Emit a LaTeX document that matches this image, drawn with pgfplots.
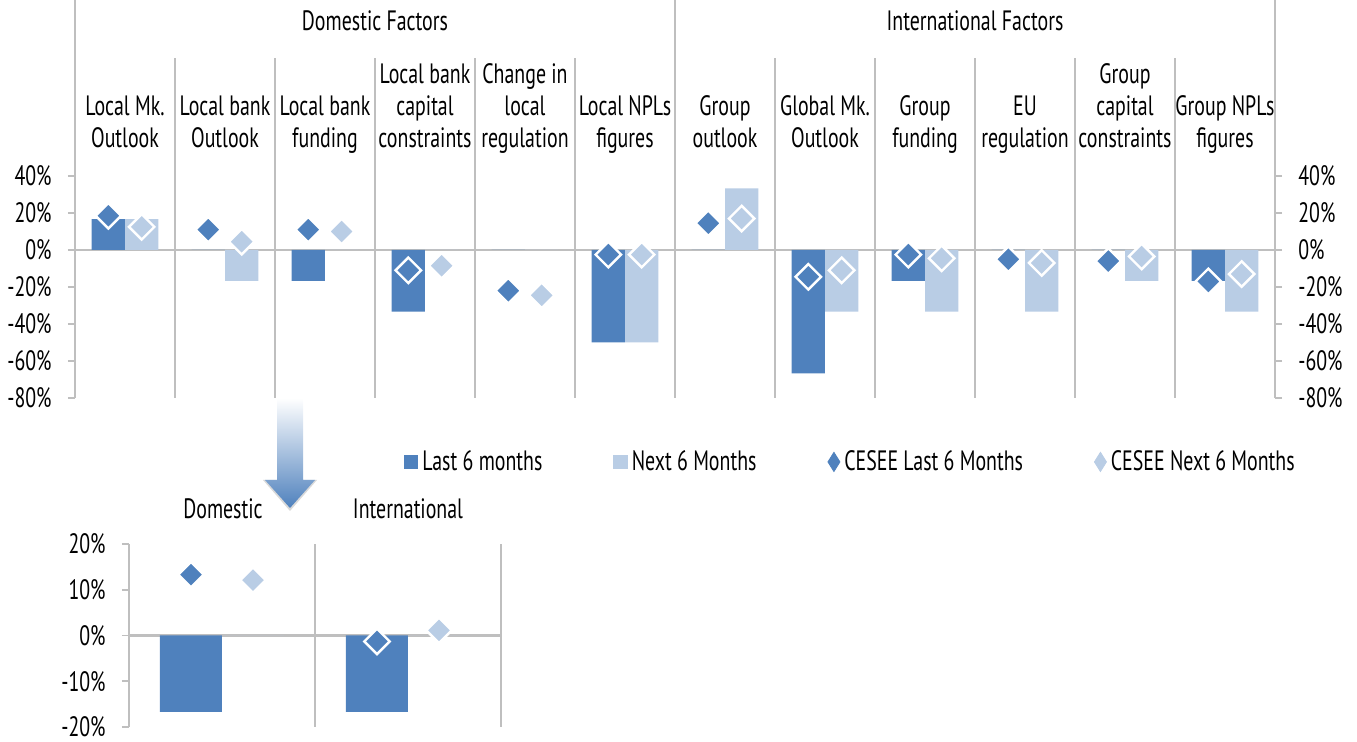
\documentclass[border=0pt]{standalone}
\usepackage{pgfplots}
\pgfplotsset{compat=1.18}
\usepackage{fontspec}
\setmainfont{PT Sans}[FakeStretch=0.71]
\definecolor{cdark}{HTML}{4F81BD}
\definecolor{clight}{HTML}{B9CDE5}
\definecolor{sepc}{HTML}{BFBFBF}
\newcommand{\lf}{\fontsize{14}{16}\selectfont}
\tikzset{sepline/.style={draw=sepc, line width=0.9pt},
         zeroline/.style={draw=sepc, line width=1.2pt}}
\pgfplotsset{
  myaxis/.style={scale only axis, anchor=south west, clip=false,
    axis x line=none,
    axis line style={draw=sepc, line width=0.9pt},
    tick style={draw=sepc, line width=0.9pt},
    tick align=outside, major tick length=3.5pt,
    yticklabel style={font=\lf, inner sep=0pt},
  },
  darkbar/.style={ybar, bar width=0.3333, bar shift=0pt, fill=cdark, draw=none,
    legend image code/.code={\fill[cdark] (0pt,-3.6pt) rectangle (7.2pt,3.6pt);}},
  lightbar/.style={ybar, bar width=0.3333, bar shift=0pt, fill=clight, draw=none,
    legend image code/.code={\fill[clight] (0pt,-3.6pt) rectangle (7.2pt,3.6pt);}},
  darkdia/.style={only marks, mark=square*, mark size=4.5pt,
    mark options={rotate=45, fill=cdark, draw=white, line width=1.2pt},
    legend image code/.code={\fill[cdark] (3pt,4.8pt) -- (6pt,0pt) -- (3pt,-4.8pt) -- (0pt,0pt) -- cycle;}},
  lightdia/.style={only marks, mark=square*, mark size=4.5pt,
    mark options={rotate=45, fill=clight, draw=white, line width=1.2pt},
    legend image code/.code={\fill[clight] (3pt,4.8pt) -- (6pt,0pt) -- (3pt,-4.8pt) -- (0pt,0pt) -- cycle;}},
}
\begin{document}
\begin{tikzpicture}
\useasboundingbox (0,0) rectangle (678.5pt,371pt);
% arrow
\fill[gray!30] (131.5pt,131pt) -- (158.5pt,131pt) -- (145pt,115.5pt) -- cycle;
\shade[top color=white, bottom color=cdark]
  (138.5pt,172pt) -- (151.5pt,172pt) -- (151.5pt,131pt) -- (157.5pt,131pt)
  -- (145pt,117pt) -- (132.5pt,131pt) -- (138.5pt,131pt) -- cycle;

% top chart
\begin{axis}[myaxis,
  at={(37.5pt,172pt)}, width=600pt, height=111pt,
  xmin=0, xmax=12, ymin=-80, ymax=40,
  axis y line*=left,
  ytick={-80,-60,-40,-20,0,20,40},
  yticklabels={-80\%,-60\%,-40\%,-20\%,0\%,20\%,40\%},
  yticklabel style={xshift=-8pt},
  legend columns=4,
  legend style={at={(0.647,-0.288)}, anchor=center, draw=none, fill=none,
    font=\lf, nodes={inner sep=2pt},
    /tikz/every even column/.append style={column sep=33.5pt}},
  legend cell align=left,
]
\pgfplotsinvokeforeach{1,2,3,4,5,7,8,9,10,11}{\draw[sepline] (axis cs:#1,-80) -- (axis cs:#1,104);}
\pgfplotsinvokeforeach{0,6,12}{\draw[sepline] (axis cs:#1,-80) -- (axis cs:#1,135);}
\draw[zeroline] (axis cs:0,0) -- (axis cs:12,0);
\addplot[darkbar] coordinates {(0.3333,16.67) (1.3333,0) (2.3333,-16.67) (3.3333,-33.33) (4.3333,0) (5.3333,-50) (6.3333,0) (7.3333,-66.67) (8.3333,-16.67) (9.3333,0) (10.3333,0) (11.3333,-16.67)};
\addlegendentry{Last 6 months}
\addplot[lightbar] coordinates {(0.6667,16.67) (1.6667,-16.67) (2.6667,0) (3.6667,0) (4.6667,0) (5.6667,-50) (6.6667,33.33) (7.6667,-33.33) (8.6667,-33.33) (9.6667,-33.33) (10.6667,-16.67) (11.6667,-33.33)};
\addlegendentry{Next 6 Months}
\addplot[darkdia] coordinates {(0.3333,18.5) (1.3333,11) (2.3333,11) (3.3333,-11) (4.3333,-22) (5.3333,-2.5) (6.3333,14.5) (7.3333,-14.5) (8.3333,-2.5) (9.3333,-5) (10.3333,-6) (11.3333,-17)};
\addlegendentry{CESEE Last 6 Months}
\addplot[lightdia] coordinates {(0.6667,12.5) (1.6667,4.5) (2.6667,10) (3.6667,-8.5) (4.6667,-24.5) (5.6667,-2.5) (6.6667,17) (7.6667,-11) (8.6667,-4.5) (9.6667,-7) (10.6667,-3.5) (11.6667,-13)};
\addlegendentry{CESEE Next 6 Months}
\end{axis}
% right axis of top chart
\begin{axis}[myaxis,
  at={(37.5pt,172pt)}, width=600pt, height=111pt,
  xmin=0, xmax=12, ymin=-80, ymax=40,
  axis y line*=right,
  ytick={-80,-60,-40,-20,0,20,40},
  yticklabels={-80\%,-60\%,-40\%,-20\%,0\%,20\%,40\%},
  yticklabel style={xshift=8pt},
]
\addplot[draw=none] coordinates {(0,0)};
\end{axis}

% category labels
\begin{scope}[every node/.style={font=\lf, align=center, anchor=south, inner sep=0pt}]
\node at (62.5pt,292pt) {Local Mk.\\Outlook\strut};
\node at (112.5pt,292pt) {Local bank\\Outlook\strut};
\node at (162.5pt,292pt) {Local bank\\funding\strut};
\node at (212.5pt,292pt) {Local bank\\capital\\constraints\strut};
\node at (262.5pt,292pt) {Change in\\local\\regulation\strut};
\node at (312.5pt,292pt) {Local NPLs\\figures\strut};
\node at (362.5pt,292pt) {Group\\outlook\strut};
\node at (412.5pt,292pt) {Global Mk.\\Outlook\strut};
\node at (462.5pt,292pt) {Group\\funding\strut};
\node at (512.5pt,292pt) {EU\\regulation\strut};
\node at (562.5pt,292pt) {Group\\capital\\constraints\strut};
\node at (612.5pt,292pt) {Group NPLs\\figures\strut};
\end{scope}
\node[font=\lf, anchor=base, inner sep=0pt] at (187.5pt,355.75pt) {Domestic Factors};
\node[font=\lf, anchor=base, inner sep=0pt] at (487.5pt,355.75pt) {International Factors};

% bottom chart
\begin{axis}[myaxis,
  at={(64.5pt,7.5pt)}, width=186pt, height=91.5pt,
  xmin=0, xmax=2, ymin=-20, ymax=20,
  axis y line*=left,
  ytick={-20,-10,0,10,20},
  yticklabels={-20\%,-10\%,0\%,10\%,20\%},
  yticklabel style={xshift=-8pt},
]
\pgfplotsinvokeforeach{1,2}{\draw[sepline] (axis cs:#1,-20) -- (axis cs:#1,20);}
\draw[zeroline] (axis cs:0,0) -- (axis cs:2,0);
\addplot[darkbar] coordinates {(0.3333,-16.67) (1.3333,-16.67)};
\addplot[lightbar] coordinates {(0.6667,0) (1.6667,0)};
\addplot[darkdia] coordinates {(0.3333,13.3) (1.3333,-1.3)};
\addplot[lightdia] coordinates {(0.6667,12.1) (1.6667,1.1)};
\end{axis}
\node[font=\lf, anchor=base, inner sep=0pt] at (111.5pt,111.75pt) {Domestic};
\node[font=\lf, anchor=base, inner sep=0pt] at (204pt,111.75pt) {International};
\end{tikzpicture}
\end{document}
